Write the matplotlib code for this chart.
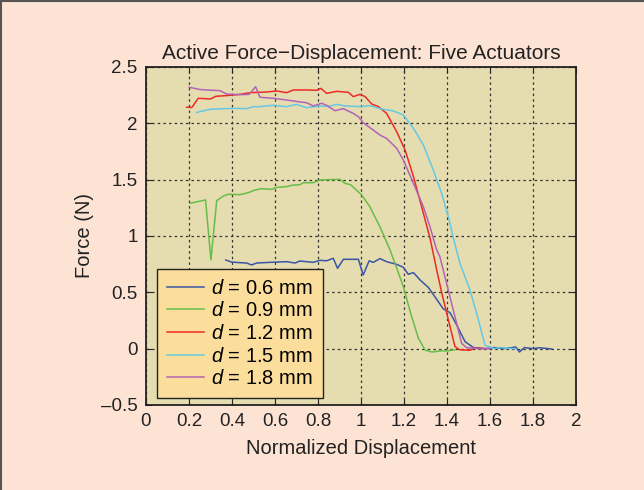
import matplotlib
matplotlib.use("Agg")
import matplotlib.pyplot as plt
from matplotlib.lines import Line2D

plt.rcParams["font.family"] = ["Liberation Sans", "DejaVu Sans"]
plt.rcParams["mathtext.fontset"] = "custom"
plt.rcParams["mathtext.it"] = "Liberation Sans:italic"
plt.rcParams["mathtext.rm"] = "Liberation Sans"

# d = 0.6 mm
x06 = [0.371, 0.397, 0.437, 0.468, 0.491, 0.515, 0.577, 0.654, 0.693, 0.716, 0.747, 0.778,
       0.809, 0.84, 0.871, 0.891, 0.918, 0.988, 1.01, 1.038, 1.057, 1.088, 1.119, 1.166,
       1.197, 1.22, 1.244, 1.275, 1.313, 1.344, 1.383, 1.414, 1.445, 1.484, 1.523, 1.58,
       1.62, 1.66, 1.70, 1.72, 1.737, 1.76, 1.80, 1.83, 1.887]
y06 = [0.787, 0.769, 0.763, 0.76, 0.743, 0.76, 0.766, 0.772, 0.76, 0.778, 0.772, 0.766,
       0.784, 0.78, 0.802, 0.713, 0.793, 0.793, 0.654, 0.78, 0.766, 0.799, 0.772, 0.748,
       0.722, 0.66, 0.675, 0.609, 0.544, 0.46, 0.352, 0.32, 0.21, 0.062, 0.01, 0.0,
       0.01, 0.0, 0.008, 0.015, -0.03, 0.01, 0.0, 0.008, -0.003]

# d = 0.9 mm
x09 = [0.205, 0.277, 0.302, 0.329, 0.36, 0.383, 0.437, 0.476, 0.507, 0.537, 0.584, 0.608,
       0.654, 0.685, 0.716, 0.732, 0.778, 0.809, 0.902, 0.926, 0.952, 1.003, 1.041, 1.088,
       1.135, 1.169, 1.197, 1.231, 1.267, 1.298, 1.33, 1.37, 1.40, 1.437]
y09 = [1.29, 1.32, 0.787, 1.314, 1.355, 1.37, 1.367, 1.385, 1.408, 1.42, 1.414, 1.432,
       1.438, 1.452, 1.455, 1.473, 1.473, 1.497, 1.503, 1.467, 1.455, 1.364, 1.26, 1.082,
       0.876, 0.70, 0.55, 0.314, 0.092, -0.012, -0.03, -0.02, -0.02, -0.01]

# d = 1.2 mm
x12 = [0.189, 0.213, 0.243, 0.30, 0.325, 0.375, 0.437, 0.484, 0.561, 0.608, 0.654, 0.685,
       0.747, 0.794, 0.814, 0.84, 0.887, 0.941, 0.964, 0.995, 1.019, 1.05, 1.081, 1.119,
       1.166, 1.205, 1.244, 1.282, 1.321, 1.352, 1.375, 1.437, 1.46, 1.507, 1.53, 1.58]
y12 = [2.143, 2.14, 2.222, 2.216, 2.24, 2.246, 2.257, 2.272, 2.278, 2.287, 2.272, 2.296,
       2.296, 2.293, 2.31, 2.266, 2.284, 2.275, 2.237, 2.257, 2.237, 2.171, 2.148, 2.088,
       1.926, 1.763, 1.527, 1.26, 0.98, 0.70, 0.50, 0.018, -0.01, -0.014, 0.005, 0.0]

# d = 1.5 mm
x15 = [0.236, 0.30, 0.406, 0.468, 0.499, 0.53, 0.592, 0.654, 0.70, 0.747, 0.809, 0.85,
       0.887, 0.926, 0.995, 1.041, 1.088, 1.15, 1.197, 1.244, 1.29, 1.336, 1.375, 1.406,
       1.43, 1.46, 1.507, 1.546, 1.577, 1.62, 1.65, 1.70, 1.72]
y15 = [2.097, 2.125, 2.133, 2.13, 2.148, 2.148, 2.16, 2.148, 2.168, 2.139, 2.154, 2.15,
       2.168, 2.154, 2.148, 2.157, 2.13, 2.11, 2.074, 1.956, 1.808, 1.586, 1.379, 1.172,
       0.98, 0.758, 0.52, 0.255, 0.03, 0.0, 0.01, 0.0, 0.0]

# d = 1.8 mm
x18 = [0.201, 0.25, 0.30, 0.344, 0.375, 0.437, 0.48, 0.51, 0.53, 0.592, 0.654, 0.716,
       0.747, 0.778, 0.817, 0.84, 0.879, 0.918, 0.964, 0.988, 1.01, 1.057, 1.088, 1.119,
       1.166, 1.197, 1.244, 1.29, 1.321, 1.352, 1.367, 1.398, 1.437, 1.468, 1.49, 1.55, 1.6]
y18 = [2.32, 2.30, 2.294, 2.29, 2.26, 2.254, 2.257, 2.325, 2.231, 2.222, 2.207, 2.19,
       2.183, 2.154, 2.178, 2.16, 2.112, 2.13, 2.088, 2.059, 2.006, 1.94, 1.896, 1.866,
       1.778, 1.674, 1.467, 1.26, 1.082, 0.876, 0.816, 0.58, 0.284, 0.048, 0.01, 0.0, 0.0]

series = [(x06, y06, "0.6"), (x09, y09, "0.9"), (x12, y12, "1.2"),
          (x15, y15, "1.5"), (x18, y18, "1.8")]
colors = ["#3A55A6", "#66BE48", "#EE2A24", "#66C8E2", "#B363B5"]

x_ticks = [0, 0.2, 0.4, 0.6, 0.8, 1, 1.2, 1.4, 1.6, 1.8, 2]
x_ticklabels = ["0", "0.2", "0.4", "0.6", "0.8", "1", "1.2", "1.4", "1.6", "1.8", "2"]
y_ticks = [-0.5, 0, 0.5, 1, 1.5, 2, 2.5]
y_ticklabels = ["\u20130.5", "0", "0.5", "1", "1.5", "2", "2.5"]

fig = plt.figure(figsize=(6.44, 4.9), dpi=100, facecolor="#FDE3D4")
ax = fig.add_axes([0.2267, 0.1735, 0.6677, 0.6898], facecolor="#E5DDB0")

for (xs, ys, lab), c in zip(series, colors):
    ax.plot(xs, ys, color=c, lw=1.1, label=f"$d$ = {lab} mm")

ax.set_xlim(0, 2)
ax.set_ylim(-0.5, 2.5)
ax.set_xticks(x_ticks)
ax.set_xticklabels(x_ticklabels)
ax.set_yticks(y_ticks)
ax.set_yticklabels(y_ticklabels)
ax.tick_params(direction="in", length=4, width=0.8, labelsize=13.5, colors="#222222",
               top=True, right=True, pad=6)
ax.grid(True, color="#333333", linestyle=(0, (2, 2.5)), lw=0.9)
for s in ax.spines.values():
    s.set_linewidth(1.3)
    s.set_color("#222222")

ax.set_title("Active Force\u2212Displacement: Five Actuators", fontsize=15,
             color="#222222", pad=6)
ax.set_xlabel("Normalized Displacement", fontsize=14.5, color="#222222", labelpad=6)
ax.set_ylabel("Force (N)", fontsize=14.5, color="#222222", labelpad=5)

leg = ax.legend(loc="lower left", bbox_to_anchor=(0.0249, 0.0198), borderaxespad=0,
                fontsize=14.5, frameon=True, fancybox=False,
                facecolor="#FCDE9C", edgecolor="#222222", framealpha=1,
                handlelength=1.85, handletextpad=0.35, labelspacing=0.18,
                borderpad=0.5)
leg.get_frame().set_linewidth(1.0)

# thin border along the left and top of the figure
fig.add_artist(Line2D([0.0016, 0.0016], [0, 1], transform=fig.transFigure, color="#555555", lw=1.5))
fig.add_artist(Line2D([0, 1], [0.998, 0.998], transform=fig.transFigure, color="#555555", lw=1.5))

fig.savefig("out.png", dpi=100, facecolor=fig.get_facecolor())
